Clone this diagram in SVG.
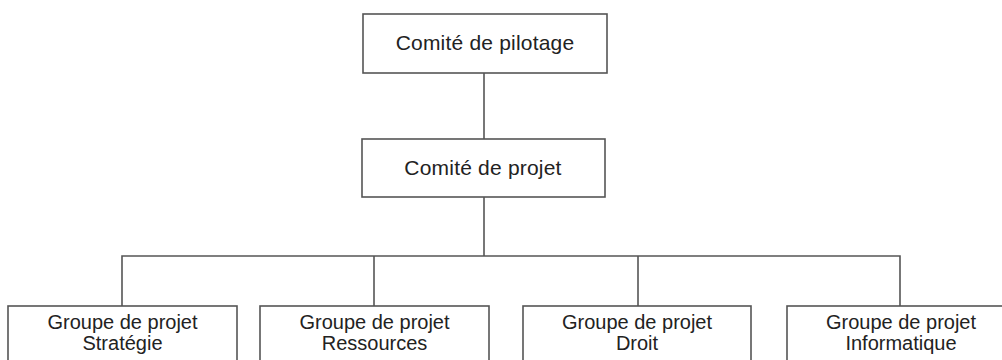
<svg xmlns="http://www.w3.org/2000/svg" width="1002" height="360" viewBox="0 0 1002 360">
<style>
.box{fill:#fff;stroke:#555;stroke-width:1.6}
.ln{fill:none;stroke:#555;stroke-width:1.6}
.t{font-family:"Liberation Sans",Arial,sans-serif;font-size:20px;fill:#222;text-anchor:middle}
.big{font-size:21px;letter-spacing:0.2px}
</style>
<rect width="1002" height="360" fill="#fff"/>
<g id="connectors">
<line class="ln" x1="484" y1="73" x2="484" y2="139"/>
<line class="ln" x1="484" y1="197" x2="484" y2="256"/>
<polyline class="ln" points="122,306 122,256 900,256 900,306"/>
<line class="ln" x1="374" y1="256" x2="374" y2="306"/>
<line class="ln" x1="638" y1="256" x2="638" y2="306"/>
</g>
<g id="n-pilotage">
<rect class="box" x="363" y="14" width="244" height="59"/>
<text class="t big" x="485" y="50">Comité de pilotage</text>
</g>
<g id="n-projet">
<rect class="box" x="362" y="139" width="243" height="58"/>
<text class="t big" x="483" y="175">Comité de projet</text>
</g>
<g id="n-strategie">
<rect class="box" x="8" y="306" width="229" height="70"/>
<text class="t" x="122.5" y="329">Groupe de projet</text>
<text class="t" x="122.5" y="350">Stratégie</text>
</g>
<g id="n-ressources">
<rect class="box" x="260" y="306" width="229" height="70"/>
<text class="t" x="374.5" y="329">Groupe de projet</text>
<text class="t" x="374.5" y="350">Ressources</text>
</g>
<g id="n-droit">
<rect class="box" x="523" y="306" width="228" height="70"/>
<text class="t" x="637" y="329">Groupe de projet</text>
<text class="t" x="637" y="350">Droit</text>
</g>
<g id="n-informatique">
<rect class="box" x="787" y="306" width="228" height="70"/>
<text class="t" x="901" y="329">Groupe de projet</text>
<text class="t" x="901" y="350">Informatique</text>
</g>
</svg>
